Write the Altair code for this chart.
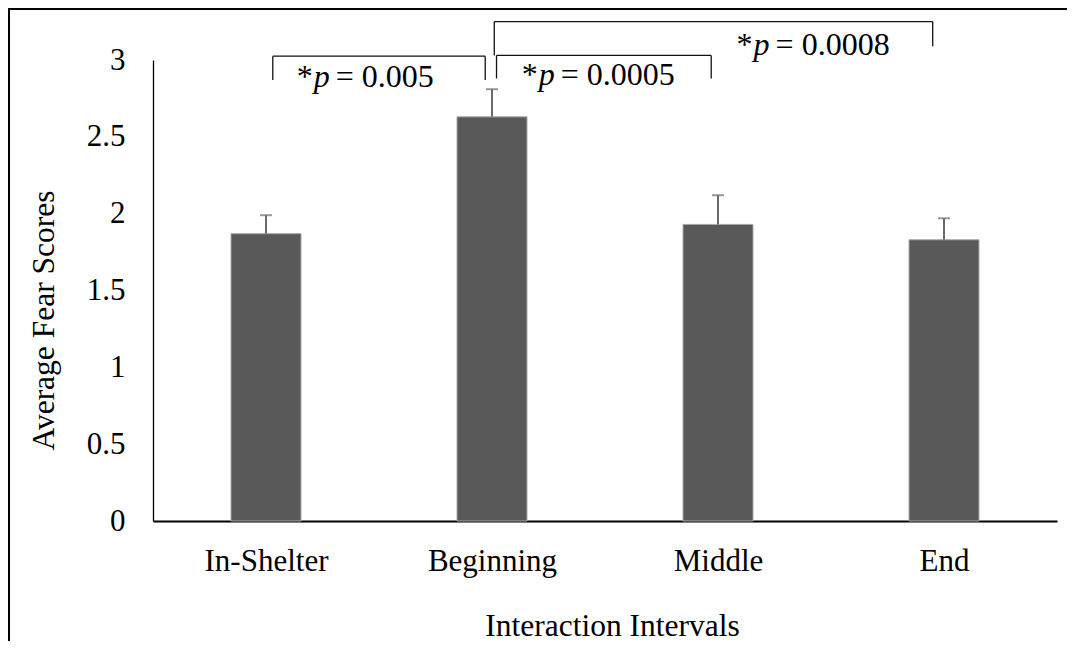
import altair as alt
import pandas as pd

# ---- data ----
categories = ["In-Shelter", "Beginning", "Middle", "End"]
means = [1.87, 2.63, 1.93, 1.83]
errors = [0.12, 0.18, 0.19, 0.14]

# significance brackets (x in category-index units, y in score units)
br_x1 = [0.03, 1.02, 1.01]
br_x2 = [0.97, 1.97, 2.95]
br_top = [3.025, 3.03, 3.25]
br_left_end = [2.87, 2.88, 3.03]
br_right_end = [2.87, 2.88, 3.09]

ann_x = [0.247, 1.242, 2.193]
ann_y = [2.822, 2.837, 3.032]
ann_p = ["0.005", "0.0005", "0.0008"]

y_ticks = [0, 0.5, 1, 1.5, 2, 2.5, 3]

# ---- tables ----
bars_df = pd.DataFrame({
    "cat": categories,
    "mean": means,
    "upper": [m + e for m, e in zip(means, errors)],
})

seg_rows = []
for a, b, t, le, re in zip(br_x1, br_x2, br_top, br_left_end, br_right_end):
    seg_rows.append({"x1": a, "x2": b, "y1": t, "y2": t})
    seg_rows.append({"x1": a, "x2": a, "y1": t, "y2": le})
    seg_rows.append({"x1": b, "x2": b, "y1": t, "y2": re})
seg_df = pd.DataFrame(seg_rows)

ann_df = pd.DataFrame({
    "px": ann_x,
    "py": ann_y,
    "star": ["*"] * len(ann_p),
    "p": ["p"] * len(ann_p),
    "rest": ["= " + v for v in ann_p],
})

W, H = 904, 461
FONT = "Liberation Serif"

yscale = alt.Scale(domain=[0, 3], nice=False, zero=True)
xq = alt.Scale(domain=[-0.5, 3.5], nice=False, zero=False)
xcat = alt.Scale(type="point", padding=0.5)

y_axis = alt.Axis(title="Average Fear Scores", values=y_ticks,
                  format="~g", labelFontSize=31, labelColor="black",
                  labelFont=FONT, labelPadding=28, labelFlush=False,
                  ticks=False, tickSize=0, domainColor="black",
                  domainWidth=1.3, grid=False,
                  titleFont=FONT, titleFontSize=31.5,
                  titleFontWeight="normal", titleColor="black",
                  titleAngle=270, titleX=-100, titleY=260,
                  titleAlign="center", titleBaseline="alphabetic")

x_axis = alt.Axis(title="Interaction Intervals", labelAngle=0,
                  labelFontSize=31, labelColor="black", labelFont=FONT,
                  labelPadding=49, labelBaseline="alphabetic",
                  ticks=False, tickSize=0, domainColor="black",
                  domainWidth=2, grid=False,
                  titleFont=FONT, titleFontSize=31.5,
                  titleFontWeight="normal", titleColor="black",
                  titleX=459, titleY=114, titleAlign="center",
                  titleBaseline="alphabetic")

bars = alt.Chart(bars_df).mark_bar(
    size=70, color="#595959", stroke="#a8a8a8", strokeWidth=1
).encode(
    x=alt.X("cat:N", sort=categories, scale=xcat, axis=x_axis),
    y=alt.Y("mean:Q", scale=yscale, axis=y_axis),
)

err_line = alt.Chart(bars_df).mark_rule(color="#6b6b6b", strokeWidth=2).encode(
    x=alt.X("cat:N", sort=categories, scale=xcat, axis=x_axis),
    y=alt.Y("mean:Q", scale=yscale, axis=y_axis),
    y2="upper:Q",
)
err_cap = alt.Chart(bars_df).mark_tick(
    color="#6b6b6b", size=12, thickness=2, orient="horizontal"
).encode(
    x=alt.X("cat:N", sort=categories, scale=xcat, axis=x_axis),
    y=alt.Y("upper:Q", scale=yscale, axis=y_axis),
)

main = alt.layer(bars, err_line, err_cap)

brackets = alt.Chart(seg_df).mark_rule(color="#111111", strokeWidth=1.3).encode(
    x=alt.X("x1:Q", scale=xq, axis=None),
    x2="x2:Q",
    y=alt.Y("y1:Q", scale=yscale, axis=y_axis),
    y2="y2:Q",
)

txt_common = dict(font=FONT, fontSize=32, color="black", baseline="alphabetic")
star = alt.Chart(ann_df).mark_text(align="right", dx=-9, **txt_common).encode(
    x=alt.X("px:Q", scale=xq, axis=None),
    y=alt.Y("py:Q", scale=yscale, axis=y_axis),
    text="star:N",
)
pit = alt.Chart(ann_df).mark_text(align="center", fontStyle="italic", **txt_common).encode(
    x=alt.X("px:Q", scale=xq, axis=None),
    y=alt.Y("py:Q", scale=yscale, axis=y_axis),
    text="p:N",
)
rest = alt.Chart(ann_df).mark_text(align="left", dx=14, **txt_common).encode(
    x=alt.X("px:Q", scale=xq, axis=None),
    y=alt.Y("py:Q", scale=yscale, axis=y_axis),
    text="rest:N",
)

dummy = pd.DataFrame({"a": [0]})
left_border = alt.Chart(dummy).mark_rule(color="black", strokeWidth=2).encode(
    x=alt.value(-144), y=alt.value(-51), y2=alt.value(H + 120)
)
top_border = alt.Chart(dummy).mark_rule(color="black", strokeWidth=2).encode(
    x=alt.value(-145), x2=alt.value(W + 10), y=alt.value(-51)
)

chart = alt.layer(
    main, brackets, star, pit, rest, left_border, top_border
).resolve_scale(x="independent").properties(
    width=W, height=H,
    autosize=alt.AutoSizeParams(type="none"),
    padding={"left": 145, "top": 52, "right": 10, "bottom": 120},
).configure(
    font=FONT
).configure_view(
    strokeWidth=0, stroke="transparent"
).configure_text(font=FONT)

chart.save("out.html", embed_options={"renderer": "svg", "actions": False})
